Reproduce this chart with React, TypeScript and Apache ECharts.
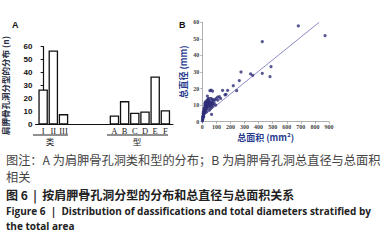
import React, { useEffect, useRef } from "react";
import * as echarts from "echarts";

// Panel A: distribution of classes (I–III) and types (A–F); blanks separate the groups
const barCategories = ["I", "II", "III", "", "", "", "", "A", "B", "C", "D", "E", "F"];
const barValues = [27, 57, 8, null, null, null, null, 7, 18, 9, 10, 37, 11];
const barYTicks = { min: 0, max: 60, interval: 10 };

// Panel B: total area (mm²) vs total diameter (mm)
const scatterPoints: [number, number][] = [
  [682, 57.8], [872, 51.9], [426, 48.3], [275, 30], [488, 33.2], [426, 29.2], [343, 28.8], [358, 28],
  [481, 27.2], [263, 24.8], [220, 21.7], [244, 18.7], [180, 18.9], [144, 18.9], [168, 16.5], [161, 16.2],
  [121, 15.1], [109, 14.9], [97, 13.9], [90, 13.1], [110, 13], [130, 14], [66, 4.4], [54, 18.7],
  [62, 19], [73, 18.5], [36, 15.5], [80, 13], [75, 12], [70, 11], [65, 12], [60, 11], [55, 12],
  [50, 11], [48, 12.5], [45, 12], [42, 12], [40, 11.5], [38, 11], [35, 13], [30, 12], [28, 12],
  [25, 11], [22, 12], [20, 10], [18, 11], [85, 11], [95, 10], [60, 8], [55, 9], [50, 7], [45, 10],
  [40, 9], [35, 8], [30, 10], [32, 10], [34, 10.5], [36, 11], [28, 9.5], [26, 9], [24, 9], [22, 8.5],
  [20, 8], [18, 8], [16, 7.5], [15, 7], [14, 7], [13, 6.5], [12, 6], [11, 5.5], [10, 5], [9, 4.5],
  [8, 4], [7, 3.5], [6, 3], [5, 2.5], [4, 2], [3, 1.5], [2, 1], [1, 0.5], [30, 6], [25, 7], [20, 6],
  [15, 5], [10, 3], [12, 8], [8, 6], [6, 5], [3, 3], [18, 9.5], [24, 10], [28, 7.5], [33, 9],
  [42, 10.5], [52, 10], [58, 10.5], [66, 10], [72, 13.5], [62, 14], [47, 14], [40, 13.5], [70, 9], [78, 10],
];
const regressionLine: [number, number][] = [[0, 3], [830, 60]];
const scatterXTicks = { min: 0, max: 900, interval: 100 };
const scatterYTicks = { min: 0, max: 60, interval: 10 };

const captionLines = [
  "图注：A 为肩胛骨孔洞类和型的分布；B 为肩胛骨孔洞总直径与总面积",
  "相关",
  "图 6  |  按肩胛骨孔洞分型的分布和总直径与总面积关系",
  "Figure 6  |  Distribution of dassifications and total diameters stratified by",
  "the total area",
];

const CJK = "'Noto Sans CJK SC', 'Noto Sans', sans-serif";
const SANS = "'Liberation Sans', Arial, sans-serif";
const SERIF = "'Liberation Serif', 'DejaVu Serif', serif";

export default function App() {
  const ref = useRef<HTMLDivElement>(null);
  useEffect(() => {
    if (!ref.current) return;
    const chart = echarts.init(ref.current, undefined, { renderer: "svg" });
    const barData = barCategories
      .map((c, i) => (c ? [i, barValues[i]] : null))
      .filter((d) => d !== null);
    const barTickIdx = barCategories.map((c, i) => (c ? i : -1)).filter((i) => i >= 0);

    const option: any = {
      animation: false,
      backgroundColor: "#ffffff",
      grid: [
        { left: 29, top: 46.5, width: 144, height: 78 },
        { left: 202.3, top: 22.3, width: 126.7, height: 99.4 },
      ],
      xAxis: [
        {
          gridIndex: 0,
          type: "value",
          min: -0.75,
          max: barCategories.length - 0.25,
          axisLine: { lineStyle: { color: "#111", width: 1 } },
          axisTick: { show: false },
          splitLine: { show: false },
          axisLabel: {
            customValues: barTickIdx,
            formatter: (v: number) => barCategories[Math.round(v)] || "",
            fontFamily: SERIF,
            fontSize: 8.5,
            color: "#222",
            margin: 2,
          },
        },
        {
          gridIndex: 1,
          type: "value",
          ...scatterXTicks,
          axisLine: { lineStyle: { color: "#9a9a9a", width: 0.8 } },
          axisTick: { length: 2, lineStyle: { color: "#9a9a9a", width: 0.8 } },
          splitLine: { show: false },
          axisLabel: { fontFamily: SERIF, fontWeight: "bold", fontSize: 6, color: "#444", margin: 2.5 },
          name: "总面积 (mm²)",
          nameLocation: "middle",
          nameGap: 11,
          nameTextStyle: { fontFamily: CJK, fontSize: 9, color: "#2b3d8f", fontWeight: "bold" },
        },
      ],
      yAxis: [
        {
          gridIndex: 0,
          type: "value",
          ...barYTicks,
          axisLine: { show: true, lineStyle: { color: "#111", width: 1.2 } },
          axisTick: { show: true, length: 2.5, lineStyle: { color: "#111", width: 1 } },
          splitLine: { show: false },
          axisLabel: { fontFamily: SANS, fontWeight: "bold", fontSize: 8, color: "#111", margin: 3 },
          name: "肩胛骨孔洞分型的分布 (n)",
          nameLocation: "middle",
          nameRotate: 90,
          nameGap: 26,
          nameTextStyle: { fontFamily: CJK, fontSize: 8.5, color: "#2a2f45", fontWeight: "bold" },
        },
        {
          gridIndex: 1,
          type: "value",
          ...scatterYTicks,
          axisLine: { show: true, lineStyle: { color: "#9a9a9a", width: 0.8 } },
          axisTick: { show: true, length: 2, lineStyle: { color: "#9a9a9a", width: 0.8 } },
          splitLine: { show: false },
          axisLabel: { fontFamily: SERIF, fontWeight: "bold", fontSize: 6, color: "#444", margin: 3 },
          name: "总直径 (mm)",
          nameLocation: "middle",
          nameRotate: 90,
          nameGap: 14,
          nameTextStyle: { fontFamily: CJK, fontSize: 9, color: "#2b3d8f", fontWeight: "bold" },
        },
      ],
      series: [
        {
          type: "bar",
          xAxisIndex: 0,
          yAxisIndex: 0,
          data: barData,
          barWidth: 9.5,
          itemStyle: { color: "#ffffff", borderColor: "#111", borderWidth: 1.3 },
        },
        {
          type: "line",
          xAxisIndex: 1,
          yAxisIndex: 1,
          data: regressionLine,
          symbol: "none",
          lineStyle: { color: "#6f6fb8", width: 0.8 },
          z: 1,
        },
        {
          type: "scatter",
          xAxisIndex: 1,
          yAxisIndex: 1,
          data: scatterPoints,
          symbol: "circle",
          symbolSize: 3.2,
          itemStyle: { color: "#2e2e78" },
          z: 2,
        },
      ],
      graphic: [
        { type: "text", x: 12, y: 25, style: { text: "A", font: `bold 9px ${SANS}`, fill: "#111", verticalAlign: "middle" } },
        { type: "text", x: 179, y: 25, style: { text: "B", font: `bold 9px ${SANS}`, fill: "#111", verticalAlign: "middle" } },
        { type: "line", shape: { x1: 33, y1: 135, x2: 68, y2: 135 }, style: { stroke: "#222", lineWidth: 1 } },
        { type: "line", shape: { x1: 107, y1: 135, x2: 168, y2: 135 }, style: { stroke: "#222", lineWidth: 1 } },
        { type: "text", x: 50, y: 141, style: { text: "类", font: `8.5px ${CJK}`, fill: "#222", align: "center", verticalAlign: "middle" } },
        { type: "text", x: 137, y: 141, style: { text: "型", font: `8.5px ${CJK}`, fill: "#222", align: "center", verticalAlign: "middle" } },
        { type: "text", x: 6, y: 160, style: { text: captionLines[0], font: `12.2px ${CJK}`, fill: "#444", verticalAlign: "middle" } },
        { type: "text", x: 6, y: 177, style: { text: captionLines[1], font: `12.2px ${CJK}`, fill: "#444", verticalAlign: "middle" } },
        { type: "text", x: 6, y: 194, style: { text: captionLines[2], font: `bold 12px ${CJK}`, fill: "#222", verticalAlign: "middle" } },
        { type: "text", x: 6, y: 211, style: { text: captionLines[3], font: `bold 10px 'Open Sans', sans-serif`, fill: "#222", verticalAlign: "middle" } },
        { type: "text", x: 6, y: 226, style: { text: captionLines[4], font: `bold 10px 'Open Sans', sans-serif`, fill: "#222", verticalAlign: "middle" } },
      ],
    };
    chart.setOption(option);
    return () => chart.dispose();
  }, []);
  return (
    <div
      ref={ref}
      style={{ position: "absolute", left: 0, top: 0, width: 382, height: 246, background: "#fff" }}
    />
  );
}
